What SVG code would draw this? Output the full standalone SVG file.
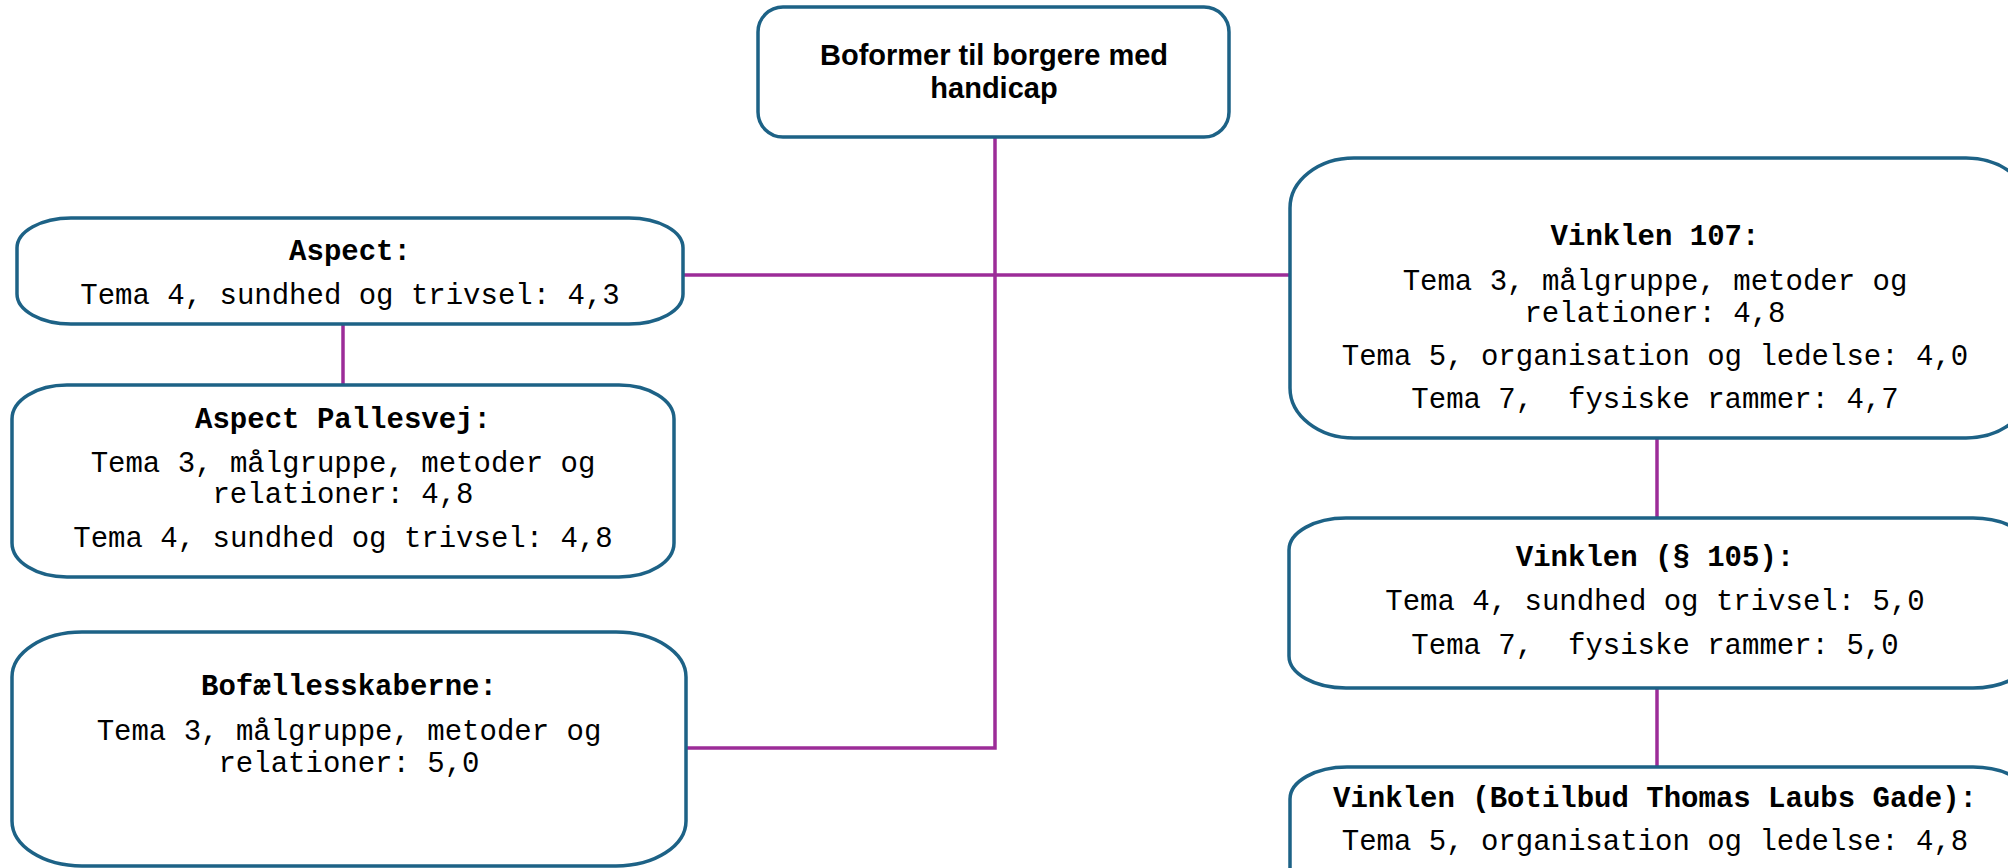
<svg xmlns="http://www.w3.org/2000/svg" width="2008" height="868" viewBox="0 0 2008 868">
<style>
.box{fill:#fff;stroke:#1d6286;stroke-width:3.5}
.con{fill:none;stroke:#9c2c98;stroke-width:3.5}
.t{font-family:"Liberation Mono","Courier New",monospace;font-size:29px;fill:#000;text-anchor:middle;white-space:pre}
.b{font-weight:bold}
.h{font-family:"Liberation Sans",Arial,sans-serif;font-size:29px;font-weight:bold;fill:#000;text-anchor:middle}
</style>
<rect width="2008" height="868" fill="#fff"/>
<g id="connectors">
<path class="con" d="M686,748 H995 V137"/>
<path class="con" d="M683,275 H1290"/>
<path class="con" d="M343,324 V385"/>
<path class="con" d="M1657,438 V518"/>
<path class="con" d="M1657,688 V767"/>
</g>
<g id="root">
<rect class="box" x="758" y="7" width="471" height="130" rx="25" ry="25"/>
<text class="h" x="994" y="65">Boformer til borgere med</text>
<text class="h" x="994" y="98">handicap</text>
</g>
<g id="aspect">
<rect class="box" x="17" y="218" width="666" height="106" rx="54" ry="30"/>
<text class="t b" x="350" y="260">Aspect:</text>
<text class="t" x="350" y="304">Tema 4, sundhed og trivsel: 4,3</text>
</g>
<g id="aspect-pallesvej">
<rect class="box" x="12" y="385" width="662" height="192" rx="55" ry="34"/>
<text class="t b" x="343" y="428">Aspect Pallesvej:</text>
<text class="t" x="343" y="472">Tema 3, målgruppe, metoder og</text>
<text class="t" x="343" y="503">relationer: 4,8</text>
<text class="t" x="343" y="547">Tema 4, sundhed og trivsel: 4,8</text>
</g>
<g id="bofaellesskaberne">
<rect class="box" x="12" y="632" width="674" height="234" rx="70" ry="45"/>
<text class="t b" x="349" y="695">Bofællesskaberne:</text>
<text class="t" x="349" y="740">Tema 3, målgruppe, metoder og</text>
<text class="t" x="349" y="772">relationer: 5,0</text>
</g>
<g id="vinklen-107">
<rect class="box" x="1290" y="158" width="740" height="280" rx="64" ry="50"/>
<text class="t b" x="1655" y="245">Vinklen 107:</text>
<text class="t" x="1655" y="290">Tema 3, målgruppe, metoder og</text>
<text class="t" x="1655" y="322">relationer: 4,8</text>
<text class="t" x="1655" y="365">Tema 5, organisation og ledelse: 4,0</text>
<text class="t" x="1655" y="408">Tema 7,  fysiske rammer: 4,7</text>
</g>
<g id="vinklen-105">
<rect class="box" x="1289" y="518" width="741" height="170" rx="57" ry="32"/>
<text class="t b" x="1655" y="566">Vinklen (§ 105):</text>
<text class="t" x="1655" y="610">Tema 4, sundhed og trivsel: 5,0</text>
<text class="t" x="1655" y="654">Tema 7,  fysiske rammer: 5,0</text>
</g>
<g id="vinklen-botilbud">
<rect class="box" x="1290" y="767" width="740" height="150" rx="57" ry="32"/>
<text class="t b" x="1655" y="807">Vinklen (Botilbud Thomas Laubs Gade):</text>
<text class="t" x="1655" y="850">Tema 5, organisation og ledelse: 4,8</text>
</g>
</svg>
